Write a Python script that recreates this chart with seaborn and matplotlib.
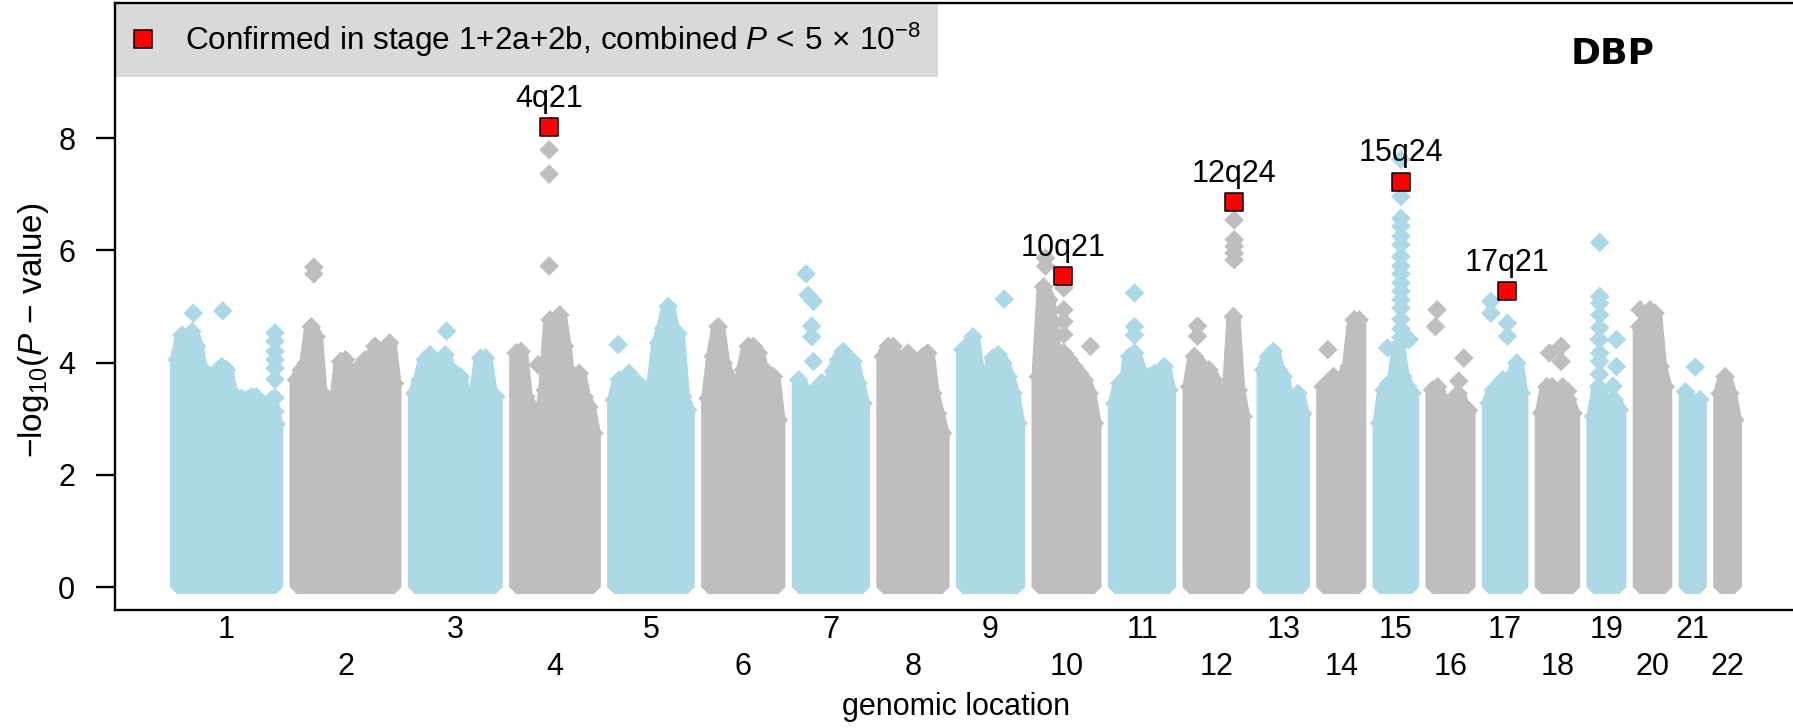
import numpy as np
import pandas as pd
import matplotlib
matplotlib.use("Agg")
import matplotlib.pyplot as plt
from matplotlib.lines import Line2D
import seaborn as sns

# ---------------------------------------------------------------------------
# Genome layout: span (Mb) between first and last plotted SNP per chromosome
# ---------------------------------------------------------------------------
chromosomes = list(range(1, 23))
chrom_span_mb = [242.0, 239.0, 197.6, 189.5, 179.8, 171.5, 156.8, 144.6, 134.9,
                 136.6, 132.7, 131.0, 96.1, 87.8, 79.8, 87.8, 79.5, 76.6,
                 63.4, 62.4, 34.9, 35.9]
chrom_gap_mb = 49.5

# Upper envelope of the dense SNP cloud (-log10 P), evenly spaced along each chromosome
env_chr1 = [4.05, 4.49, 4.20, 4.55, 4.29, 3.75, 3.81, 3.75, 3.84, 3.93, 3.87,
            3.39, 3.39, 3.36, 3.33, 3.39, 3.39, 3.15, 3.15, 3.33, 2.90]
env_chr2 = [3.69, 3.87, 3.99, 4.64, 4.46, 3.33, 3.39, 3.33, 3.21, 4.02, 4.05,
            3.27, 3.21, 3.93, 4.05, 3.75, 4.29, 3.87, 4.11, 4.35, 3.63]
env_chr3 = [3.45, 3.69, 4.05, 4.14, 3.87, 3.99, 4.14, 3.75, 3.81, 3.75, 3.33,
            3.39, 3.39, 4.08, 4.08, 3.45, 3.39]
env_chr4 = [4.17, 4.20, 3.39, 3.21, 2.86, 2.92, 3.51, 4.76, 4.70, 4.85, 4.29,
            3.51, 3.75, 3.81, 3.39, 3.21, 2.74]
env_chr5 = [3.33, 3.69, 3.45, 3.81, 3.27, 3.63, 3.51, 3.51, 3.63, 4.35, 4.61,
            5.00, 4.58, 4.52, 3.39, 3.15]
env_chr6 = [3.36, 4.11, 4.64, 3.99, 3.75, 3.51, 3.27, 3.87, 4.29, 4.29, 4.17,
            3.75, 3.81, 3.75, 2.98]
env_chr7 = [3.69, 3.51, 3.45, 3.45, 3.57, 3.45, 3.39, 3.84, 4.05, 4.20, 4.05,
            4.02, 3.63, 3.27]
env_chr8 = [4.11, 4.29, 4.29, 3.69, 3.45, 4.17, 3.51, 3.51, 4.11, 4.17, 3.45,
            3.09, 2.74]
env_chr9 = [4.23, 4.29, 4.46, 3.81, 3.27, 3.69, 4.08, 4.14, 3.99, 3.75, 3.45, 2.92]
env_chr10 = [3.75, 5.35, 5.12, 4.29, 4.11, 4.17, 4.05, 3.93, 3.81, 3.69, 3.45, 2.92]
env_chr11 = [3.27, 3.63, 3.51, 4.11, 4.17, 3.87, 3.75, 3.75, 3.81, 3.69, 3.93, 3.51]
env_chr12 = [3.57, 4.11, 3.99, 3.75, 3.87, 3.69, 3.33, 3.27, 3.39, 4.82, 3.51, 3.04]
env_chr13 = [3.87, 4.11, 4.20, 3.87, 3.75, 3.27, 3.27, 3.45, 3.09]
env_chr14 = [3.57, 3.63, 3.75, 3.45, 3.75, 3.93, 4.76, 4.76]
env_chr15 = [2.92, 3.51, 3.63, 3.57, 4.29, 3.75, 3.57, 3.45]
env_chr16 = [3.51, 3.57, 3.21, 3.27, 3.33, 3.45, 3.21, 3.15]
env_chr17 = [3.28, 3.51, 3.34, 3.69, 3.69, 3.57, 3.99, 3.45]
env_chr18 = [3.10, 3.57, 3.57, 3.22, 3.57, 3.34, 3.10]
env_chr19 = [3.04, 3.57, 3.34, 3.28, 3.34, 3.16]
env_chr20 = [4.64, 4.52, 4.94, 4.88, 3.93, 3.57]
env_chr21 = [3.48, 3.22, 3.28, 3.34]
env_chr22 = [3.45, 3.75, 3.45, 2.98]

# Individual SNPs standing out above the cloud (position in Mb from first SNP)
spike_chr = ([1] * 10 + [2] * 2 + [3] + [4] * 4 + [5] + [7] * 7 + [9] +
             [10] * 7 + [11] * 3 + [12] * 7 + [14] + [15] * 19 + [16] * 4 +
             [17] * 4 + [18] * 4 + [19] * 12 + [20] + [21])
spike_pos_mb = ([39.8, 111.5] + [239.0] * 8 +
                [42.2, 42.2] +
                [77.3] +
                [80.5, 80.5, 80.5, 53.7] +
                [9.8] +
                [17.8, 22.7, 35.9, 31.7, 31.7, 35.9, 56.0] +
                [100.7] +
                [17.0, 17.0, 61.7, 61.7, 61.7, 61.7, 126.8] +
                [48.0, 48.0, 48.0] +
                [109.0] * 5 + [19.5, 19.5] +
                [11.2] +
                [52.2] * 17 + [72.4, 19.5] +
                [11.2, 7.3, 76.3, 64.1] +
                [4.9, 4.9, 45.4, 45.4] +
                [18.8, 47.3, 47.3, 63.4] +
                [15.4] * 7 + [14.4, 14.4, 56.1, 56.1, 47.8] +
                [0.7] +
                [23.7])
spike_logp = ([4.88, 4.92, 4.53, 4.38, 4.20, 4.05, 3.90, 3.70, 3.37, 3.13] +
              [5.70, 5.58] +
              [4.56] +
              [7.79, 7.36, 5.72, 3.96] +
              [4.32] +
              [5.58, 5.20, 5.09, 4.65, 4.46, 4.02, 3.64] +
              [5.13] +
              [5.86, 5.72, 5.33, 4.94, 4.73, 4.50, 4.29] +
              [5.24, 4.64, 4.49] +
              [6.54, 6.19, 6.07, 5.95, 5.83, 4.65, 4.47] +
              [4.23] +
              [7.62, 6.96, 6.57, 6.43, 6.25, 6.10, 5.89, 5.72, 5.58, 5.42,
               5.27, 5.12, 4.97, 4.77, 4.60, 4.45, 4.35, 4.41, 4.26] +
              [4.94, 4.64, 4.08, 3.67] +
              [5.09, 4.88, 4.70, 4.47] +
              [4.17, 4.29, 4.02, 3.49] +
              [6.14, 5.18, 5.06, 4.85, 4.62, 4.17, 4.02, 4.41, 3.79, 4.41, 3.93, 3.58] +
              [4.94] +
              [3.92])

# Loci confirmed in stage 1+2a+2b
hit_label = ["4q21", "10q21", "12q24", "15q24", "17q21"]
hit_chr = [4, 10, 12, 15, 17]
hit_pos_mb = [80.5, 60.7, 109.0, 52.2, 45.4]
hit_logp = [8.19, 5.535, 6.86, 7.22, 5.27]

y_ticks = [0, 2, 4, 6, 8]
trait = "DBP"

# ---------------------------------------------------------------------------
# Style
# ---------------------------------------------------------------------------
sns.set_style("ticks")
plt.rcParams["font.family"] = ["Liberation Sans", "DejaVu Sans"]
plt.rcParams["mathtext.fontset"] = "custom"
plt.rcParams["mathtext.rm"] = "Liberation Sans"
plt.rcParams["mathtext.it"] = "Liberation Sans:italic"
plt.rcParams["mathtext.bf"] = "Liberation Sans:bold"
for key in ["text.color", "axes.labelcolor", "xtick.color", "ytick.color",
            "axes.edgecolor"]:
    plt.rcParams[key] = "black"

BLUE = "#ADD8E6"
GREY = "#BEBEBE"
FS = 22

offsets = np.concatenate([[0.0], np.cumsum(np.array(chrom_span_mb[:-1]) + chrom_gap_mb)])
chrom_offset = dict(zip(chromosomes, offsets))
envelopes = [env_chr1, env_chr2, env_chr3, env_chr4, env_chr5, env_chr6, env_chr7,
             env_chr8, env_chr9, env_chr10, env_chr11, env_chr12, env_chr13,
             env_chr14, env_chr15, env_chr16, env_chr17, env_chr18, env_chr19,
             env_chr20, env_chr21, env_chr22]

fig = plt.figure(figsize=(17.93, 7.28), dpi=100)
ax = fig.add_axes([114.7 / 1793, 0.16277, 1682.5 / 1793, 0.83256])

# dense SNP cloud per chromosome
env_rows = []
for c, span, off, env in zip(chromosomes, chrom_span_mb, offsets, envelopes):
    xs = off + np.linspace(0.0, span, len(env))
    col = BLUE if c % 2 else GREY
    ax.fill(np.r_[xs[0], xs, xs[-1]], np.r_[0.0, env, 0.0], facecolor=col,
            edgecolor=col, linewidth=10.1, joinstyle="bevel", zorder=1)
    for x, y in zip(xs, env):
        env_rows.append({"x": x, "logp": y, "group": "odd" if c % 2 else "even"})

snp = pd.DataFrame(env_rows)
spikes = pd.DataFrame({"chr": spike_chr, "pos": spike_pos_mb, "logp": spike_logp})
spikes["x"] = spikes["chr"].map(chrom_offset) + spikes["pos"]
spikes["group"] = np.where(spikes["chr"] % 2 == 1, "odd", "even")
points = pd.concat([snp, spikes[["x", "logp", "group"]]], ignore_index=True)

sns.scatterplot(data=points, x="x", y="logp", hue="group",
                palette={"odd": BLUE, "even": GREY}, marker="D", s=100,
                linewidth=0, legend=False, zorder=2, ax=ax)

hits = pd.DataFrame({"label": hit_label, "chr": hit_chr, "pos": hit_pos_mb,
                     "logp": hit_logp})
hits["x"] = hits["chr"].map(chrom_offset) + hits["pos"]
sns.scatterplot(data=hits, x="x", y="logp", marker="s", s=180, color="red",
                edgecolor="black", linewidth=1.1, legend=False, zorder=4, ax=ax)
for _, r in hits.iterrows():
    ax.annotate(r["label"], (r["x"], r["logp"]), xytext=(0, 20.5),
                textcoords="offset points", ha="center", va="center",
                fontsize=FS, zorder=6)

# axes ranges (4 % padding on the genome axis)
total = offsets[-1] + chrom_span_mb[-1]
ax.set_xlim(-0.04 * total, 1.04 * total)
ax.set_ylim(-0.4, 10.4)

# chromosome labels in two staggered rows
mids = offsets + np.array(chrom_span_mb) / 2
odd_idx = [i for i, c in enumerate(chromosomes) if c % 2]
even_idx = [i for i, c in enumerate(chromosomes) if c % 2 == 0]
ax.set_xticks(mids[odd_idx])
ax.set_xticklabels([str(chromosomes[i]) for i in odd_idx])
ax.set_xticks(mids[even_idx], minor=True)
ax.set_xticklabels([str(chromosomes[i]) for i in even_idx], minor=True)
ax.tick_params(axis="x", which="major", length=0, pad=4.2, labelsize=FS)
ax.tick_params(axis="x", which="minor", length=0, pad=30.5, labelsize=FS)
ax.set_yticks(y_ticks)
ax.tick_params(axis="y", length=14, width=1.7, pad=14.4, labelsize=FS)

ax.set_xlabel("genomic location", fontsize=FS, va="baseline")
ax.xaxis.set_label_coords(0.5, -0.1736)
ax.set_ylabel(r"$-\mathrm{log}_{10}(P\,-\,\mathrm{value})$", fontsize=24, va="center")
ax.yaxis.set_label_coords(-0.048, 0.461)

for side in ["left", "bottom", "top", "right"]:
    ax.spines[side].set_linewidth(1.7)
    ax.spines[side].set_color("black")
    ax.spines[side].set_zorder(10)

handle = Line2D([], [], marker="s", linestyle="none", markerfacecolor="red",
                markeredgecolor="black", markeredgewidth=1.1, markersize=13.4)
leg = ax.legend([handle], [r"Confirmed in stage 1+2a+2b, combined $P\,<\,5\,\times\,10^{-8}$"],
                loc="upper left", bbox_to_anchor=(0, 1), borderaxespad=0,
                fontsize=22.7, frameon=True, fancybox=False, facecolor="#D9D9D9",
                edgecolor="none", framealpha=1, borderpad=0.56, handlelength=0.7,
                handletextpad=0.96)
leg.set_zorder(5)

ax.text(0.890, 0.917, trait, transform=ax.transAxes, ha="center", va="center",
        fontsize=26, fontweight="bold", family="DejaVu Sans", zorder=6)

fig.savefig("out.png", dpi=100)
